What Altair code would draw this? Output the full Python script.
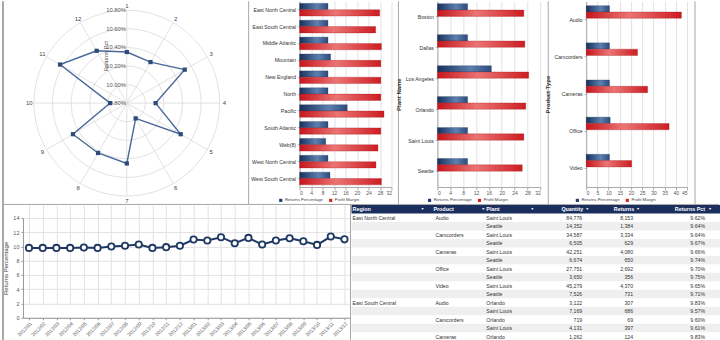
import math
import altair as alt
import pandas as pd

FONT = "Liberation Sans"
NAVY = "#1f3864"
GRID = "#e2e2e2"
FRAME = "#a8a8a8"
TXT = "#333333"

# ---------------- data ----------------
radar_month = [1, 2, 3, 4, 5, 6, 7, 8, 9, 10, 11, 12]
radar_pct = [10.35, 10.31, 10.52, 10.11, 10.47, 9.99, 10.45, 10.42, 10.47, 9.98, 10.63, 10.45]
ring_values = [10.0, 10.2, 10.4, 10.6, 10.8]
ring_label_values = [9.8, 10.0, 10.2, 10.4, 10.6, 10.8]
R_MIN, R_MAX = 9.8, 10.8

series = ["Returns Percentage", "Profit Margin"]

regions = ["East North Central", "East South Central", "Middle Atlantic", "Mountain",
           "New England", "North", "Pacific", "South Atlantic", "Web(8)",
           "West North Central", "West South Central"]
region_returns = [9.9, 9.9, 9.9, 10.8, 9.9, 9.9, 16.6, 9.9, 9.1, 9.9, 10.6]
region_margin = [27.9, 26.5, 28.5, 28.3, 28.3, 28.3, 29.4, 28.3, 27.3, 26.6, 28.5]

plants = ["Boston", "Dallas", "Los Angeles", "Orlando", "Saint Louis", "Seattle"]
plant_returns = [9.4, 9.4, 16.8, 9.4, 9.4, 9.4]
plant_margin = [26.9, 27.2, 28.4, 27.5, 26.9, 26.4]

products = ["Audio", "Camcorders", "Cameras", "Office", "Video"]
product_returns = [10.4, 10.4, 10.4, 10.7, 10.4]
product_margin = [42.5, 22.9, 27.4, 37.0, 20.3]

line_months = ["2012/01", "2012/02", "2012/03", "2012/04", "2012/05", "2012/06",
               "2012/07", "2012/08", "2012/09", "2012/10", "2012/11", "2012/12",
               "2013/01", "2013/02", "2013/03", "2013/04", "2013/05", "2013/06",
               "2013/07", "2013/08", "2013/09", "2013/10", "2013/11", "2013/12"]
line_returns = [9.8, 9.8, 9.8, 9.8, 9.85, 9.8, 10.0, 10.1, 10.27, 9.8, 9.9, 10.1,
                10.97, 10.83, 11.3, 10.45, 11.2, 10.27, 10.83, 11.15, 10.73, 10.22, 11.39, 11.0]

tbl_headers = ["Region", "Product", "Plant", "Quantity", "Returns", "Returns Pct"]
tbl_region = ["East North Central", "", "", "", "", "", "", "", "", "",
              "East South Central", "", "", "", ""]
tbl_product = ["Audio", "", "Camcorders", "", "Cameras", "", "Office", "", "Video", "",
               "Audio", "", "Camcorders", "", "Cameras"]
tbl_plant = ["Saint Louis", "Seattle", "Saint Louis", "Seattle", "Saint Louis", "Seattle",
             "Saint Louis", "Seattle", "Saint Louis", "Seattle", "Orlando", "Saint Louis",
             "Orlando", "Saint Louis", "Orlando"]
tbl_quantity = [84776, 14352, 34587, 6505, 42251, 6674, 27751, 3650, 45279, 7526,
                3122, 7169, 719, 4131, 1262]
tbl_returns = [8153, 1384, 3334, 629, 4080, 650, 2692, 356, 4370, 731, 307, 686, 69, 397, 124]
tbl_pct = [9.62, 9.64, 9.64, 9.67, 9.66, 9.74, 9.70, 9.75, 9.65, 9.71, 9.83, 9.57, 9.60, 9.61, 9.83]

one = pd.DataFrame({"k": [0]})


def vrule(x, y1, y2, width=1):
    return alt.Chart(one).mark_rule(color=FRAME, strokeWidth=width).encode(
        x=alt.value(x), y=alt.value(y1), y2=alt.value(y2))


def hrule(x1, x2, y, width=1):
    return alt.Chart(one).mark_rule(color=FRAME, strokeWidth=width).encode(
        x=alt.value(x1), x2=alt.value(x2), y=alt.value(y))


# ---------------- radar ----------------
RAD_W, RAD_H = 231, 200
CX, CY, RPX = 104, 102, 93
xs = alt.Scale(domain=[-1, 1], range=[CX - RPX, CX + RPX])
ys = alt.Scale(domain=[-1, 1], range=[CY + RPX, CY - RPX])
XC = alt.X("c0:Q", scale=xs, axis=None)
YC = alt.Y("c0:Q", scale=ys, axis=None)

rings = alt.Chart(pd.DataFrame({"v": ring_values})).transform_calculate(
    r=f"(datum.v - {R_MIN}) / ({R_MAX} - {R_MIN})", c0="0"
).mark_point(shape="circle", filled=False, color="#dadada", strokeWidth=0.8, opacity=1).encode(
    x=XC, y=YC,
    size=alt.Size("r:Q", scale=alt.Scale(type="pow", exponent=2, domain=[0, 1],
                                         range=[0, (2 * RPX) ** 2]), legend=None),
)

spoke_base = alt.Chart(pd.DataFrame({"month": radar_month})).transform_calculate(
    ang="(datum.month - 1) * 2 * PI / 12", c0="0"
).transform_calculate(
    sx="sin(datum.ang)", sy="cos(datum.ang)",
    lx="1.05 * sin(datum.ang)", ly="1.05 * cos(datum.ang)"
)
spokes = spoke_base.mark_rule(color="#dadada", strokeWidth=0.8).encode(
    x=XC, y=YC, x2=alt.X2("sx:Q"), y2=alt.Y2("sy:Q"))
month_labels = spoke_base.mark_text(fontSize=6, color="#444").encode(
    x=alt.X("lx:Q", scale=xs, axis=None), y=alt.Y("ly:Q", scale=ys, axis=None),
    text="month:N")

ring_labels = alt.Chart(pd.DataFrame({"v": ring_label_values})).transform_calculate(
    r=f"(datum.v - {R_MIN}) / ({R_MAX} - {R_MIN})",
    lab="format(datum.v, '.2f') + '%'", c0="0"
).mark_text(align="right", baseline="middle", fontSize=5.8, color="#555", dx=-1).encode(
    x=XC, y=alt.Y("r:Q", scale=ys, axis=None), text="lab:N")

pts_base = alt.Chart(pd.DataFrame({"month": radar_month, "pct": radar_pct})).transform_calculate(
    ang="(datum.month - 1) * 2 * PI / 12",
    r=f"(datum.pct - {R_MIN}) / ({R_MAX} - {R_MIN})"
).transform_calculate(
    px="datum.r * sin(datum.ang)", py="datum.r * cos(datum.ang)"
)
radar_line = pts_base.mark_line(interpolate="linear-closed", color="#4a6898", strokeWidth=1.4).encode(
    x=alt.X("px:Q", scale=xs, axis=None), y=alt.Y("py:Q", scale=ys, axis=None),
    order="month:Q")
radar_pts = pts_base.mark_point(shape="square", filled=True, size=18, color="#2c4a7a", opacity=1).encode(
    x=alt.X("px:Q", scale=xs, axis=None), y=alt.Y("py:Q", scale=ys, axis=None))

radar_title = alt.Chart(pd.DataFrame({"t": ["Returns Pct"]})).mark_text(
    angle=270, fontSize=5.8, color="#555").encode(x=alt.value(83), y=alt.value(55), text="t:N")

radar = alt.layer(
    rings, spokes, ring_labels, radar_line, radar_pts, month_labels, radar_title,
    vrule(-20, 0, 203, 2), vrule(226, 0, 203), hrule(-21, 697, 203.5),
).properties(width=RAD_W, height=RAD_H)

# ---------------- bar charts ----------------
blue_grad = alt.LinearGradient(
    gradient="linear", x1=0, x2=1, y1=0, y2=0,
    stops=[alt.GradientStop(color="#17305a", offset=0),
           alt.GradientStop(color="#5d80b0", offset=0.62),
           alt.GradientStop(color="#2c4b7c", offset=1)])
red_grad = alt.LinearGradient(
    gradient="linear", x1=0, x2=1, y1=0, y2=0,
    stops=[alt.GradientStop(color="#c4161c", offset=0),
           alt.GradientStop(color="#ec7474", offset=0.45),
           alt.GradientStop(color="#cc1d22", offset=1)])


def bar_chart(cats, ret, mar, width, xmax, step, title, pad_inner, legend_x, frames):
    df = pd.DataFrame({"cat": cats, series[0]: ret, series[1]: mar})
    base = alt.Chart(df).transform_fold(series, as_=["series", "value"])
    y = alt.Y("cat:N", sort=cats,
              scale=alt.Scale(paddingInner=pad_inner, paddingOuter=pad_inner / 2),
              axis=alt.Axis(title=title, labelFontSize=5.2, labelColor=TXT, tickSize=2,
                            tickColor="#aaa", domainColor="#aaa", labelPadding=2,
                            labelLimit=90, titleFontSize=6, titleFontWeight="bold",
                            titleColor=TXT, titlePadding=3))
    yo = alt.YOffset("series:N", sort=series, scale=alt.Scale(domain=series, paddingInner=0))
    x = alt.X("value:Q", scale=alt.Scale(domain=[0, xmax], nice=False),
              axis=alt.Axis(values=list(range(0, xmax + 1, step)), title=None, labelFontSize=5,
                            labelColor="#555", tickSize=3, labelPadding=1, grid=True,
                            gridColor=GRID, domainColor="#aaa", tickColor="#aaa"))
    blue = base.transform_filter(alt.datum.series == series[0]).mark_bar(
        color=blue_grad, stroke="#1d3660", strokeWidth=0.3).encode(x=x, y=y, yOffset=yo)
    red = base.transform_filter(alt.datum.series == series[1]).mark_bar(
        color=red_grad, stroke="#a01015", strokeWidth=0.3).encode(x=x, y=y, yOffset=yo)
    leg = base.mark_square(opacity=0).encode(
        x=x, y=y,
        color=alt.Color("series:N", scale=alt.Scale(domain=series, range=["#1f3c6e", "#d42027"]),
                        legend=alt.Legend(orient="none", legendX=legend_x, legendY=197,
                                          direction="horizontal", title=None, labelFontSize=4.3,
                                          labelColor="#444", symbolSize=10, symbolType="square",
                                          symbolOpacity=1, symbolStrokeWidth=0,
                                          columnPadding=5, labelOffset=2, padding=0)))
    return alt.layer(blue, red, leg, *frames).properties(width=width, height=186)


bar1 = bar_chart(regions, region_returns, region_margin, 92, 32, 4, None, 0.25, -21,
                 [vrule(99, 0, 203)])
bar2 = bar_chart(plants, plant_returns, plant_margin, 103, 32, 4, "Plant Name", 0.16, -10,
                 [vrule(111, 0, 203)])
bar3 = bar_chart(products, product_returns, product_margin, 101, 45, 5, "Product Type", 0.24, -11,
                 [vrule(109, 0, 203)])

top = alt.hconcat(radar, bar1, bar2, bar3, spacing=46, bounds="flush").resolve_scale(
    color="independent").resolve_legend(color="independent")

# ---------------- line chart ----------------
line_df = pd.DataFrame({"month": line_months, "ret": line_returns})
x_axis = alt.Axis(title=None, labelAngle=-45, labelFontSize=5, labelColor="#555",
                  tickSize=2, labelPadding=1, domainColor="#999", tickColor="#999",
                  grid=True, gridColor=GRID)
y_axis = alt.Axis(title="Returns Percentage", values=list(range(0, 15, 2)),
                  labelFontSize=5.5, labelColor="#555", tickSize=2, labelPadding=2,
                  titleFontSize=6, titleFontWeight="normal", titleColor="#444",
                  titlePadding=4, grid=True, gridColor=GRID, domainColor="#999",
                  tickColor="#999")
x_scale = alt.Scale(type="point", padding=0.44)
y_scale = alt.Scale(domain=[0, 14], range=[113, 13], nice=False)
lx = alt.X("month:O", sort=line_months, scale=x_scale, axis=x_axis)
ly = alt.Y("ret:Q", scale=y_scale, axis=y_axis)
lbase = alt.Chart(line_df)
lline = lbase.mark_line(color=NAVY, strokeWidth=2).encode(x=lx, y=ly)
lpts = lbase.mark_point(filled=True, fill="white", stroke=NAVY, strokeWidth=1.8, size=40,
                        opacity=1).encode(x=lx, y=ly)
line_chart = alt.layer(lline, lpts, vrule(-20, 0, 136, 2), vrule(328, 0, 136)).properties(
    width=328, height=113)

# ---------------- table ----------------
tbl_df = pd.DataFrame({"row": list(range(1, 16)), "region": tbl_region, "product": tbl_product,
                       "plant": tbl_plant, "qty": tbl_quantity, "ret": tbl_returns, "pct": tbl_pct})
hdr_df = pd.DataFrame({"row": [0] * len(tbl_headers), "name": tbl_headers})
yscale = alt.Scale(type="band", domain=list(range(16)), paddingInner=0, paddingOuter=0)
TY = alt.Y("row:O", scale=yscale, axis=None)
TW = 369

header_bg = alt.Chart(pd.DataFrame({"row": [0]})).mark_rect(color="#1b2f5e").encode(
    y=TY, x=alt.value(0), x2=alt.value(TW))
stripes = alt.Chart(tbl_df).transform_filter("datum.row % 2 == 0").mark_rect(color="#efefef").encode(
    y=TY, x=alt.value(0), x2=alt.value(TW))


def hdr(name, xpos, align, arrow_x=None):
    layers = [alt.Chart(hdr_df).transform_filter(alt.datum.name == name).mark_text(
        align=align, baseline="middle", fontSize=5.4, fontWeight="bold", color="white").encode(
        x=alt.value(xpos), y=TY, text="name:N")]
    if arrow_x is not None:
        layers.append(alt.Chart(hdr_df).transform_filter(alt.datum.name == name).mark_text(
            text="\u25bc", align="center", baseline="middle", fontSize=3.6, color="white").encode(
            x=alt.value(arrow_x), y=TY))
    return layers


def col(field, xpos, align, fmt=None):
    text = alt.Text(field, format=fmt) if fmt else alt.Text(field)
    return alt.Chart(tbl_df).transform_calculate(
        pct_txt="format(datum.pct, '.2f') + '%'"
    ).mark_text(align=align, baseline="middle", fontSize=5.2, color=TXT).encode(
        x=alt.value(xpos), y=TY, text=text)


table = alt.layer(
    header_bg, stripes,
    *hdr("Region", 1, "left", 71),
    *hdr("Product", 82, "left", 132),
    *hdr("Plant", 135, "left", 181),
    *hdr("Quantity", 232, "right", 236),
    *hdr("Returns", 283, "right", 287),
    *hdr("Returns Pct", 354, "right", 359),
    col("region:N", 1, "left"),
    col("product:N", 84, "left"),
    col("plant:N", 135, "left"),
    col("qty:Q", 231, "right", ","),
    col("ret:Q", 282, "right", ","),
    col("pct_txt:N", 354, "right"),
).properties(width=TW, height=136)

bottom = alt.hconcat(line_chart, table, spacing=1, bounds="flush")

chart = alt.vconcat(top, bottom, spacing=-3).properties(
    padding={"left": 1, "top": 0, "right": 0, "bottom": 0}
).configure(font=FONT).configure_view(stroke=None).configure_axis(
    labelFont=FONT, titleFont=FONT).configure_legend(labelFont=FONT)

chart.save("out.html", embed_options={"renderer": "svg", "actions": False})
